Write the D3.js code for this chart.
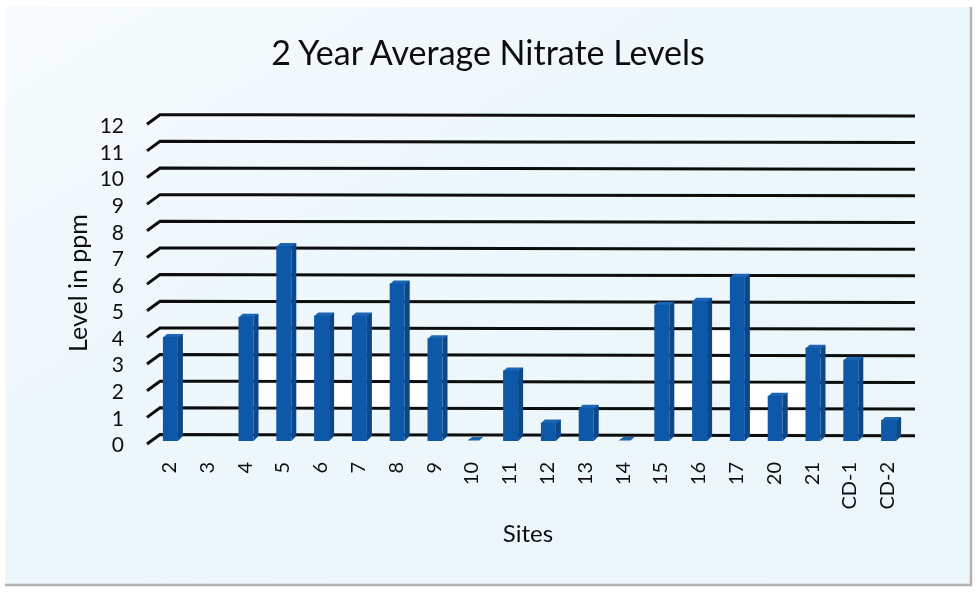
<!DOCTYPE html>
<html>
<head>
<meta charset="utf-8">
<script src="https://cdn.jsdelivr.net/npm/d3@7"></script>
<style>
html, body { margin: 0; padding: 0; background: #fff; }
svg { display: block; }
text { font-family: Lato, "Noto Sans", sans-serif; fill: #111; }
</style>
</head>
<body>
<svg id="chart" width="976" height="592"></svg>
<script>
const sites = ["2","3","4","5","6","7","8","9","10","11","12","13","14","15","16","17","20","21","CD-1","CD-2"];
const nitrate = [4.0,0,4.75,7.4,4.8,4.8,6.0,3.95,0.08,2.75,0.8,1.35,0.05,5.2,5.35,6.25,1.8,3.6,3.15,0.9];
const yTicks = [0,1,2,3,4,5,6,7,8,9,10,11,12];
// scanner dropouts between the bars: from site, to site, grid band (level to level+1)
const patchFrom = ["4","4","5","5","6","7","7","8","8","15","16","16","17","17"];
const patchTo = ["5","5","6","6","7","8","8","9","9","16","17","17","21","21"];
const patchLevel = [1,2,1,2,1,1,2,1,2,1,2,3,0,1];

const root = d3.select("#chart");

// paper
var defs = root.append("defs");
var grad = defs.append("linearGradient").attr("id", "paper")
    .attr("x1", 0).attr("y1", 0).attr("x2", 1).attr("y2", 1);
grad.append("stop").attr("offset", "0%").attr("stop-color", "#f7fbfd");
grad.append("stop").attr("offset", "35%").attr("stop-color", "#eef7fb");
grad.append("stop").attr("offset", "100%").attr("stop-color", "#ecf6fb");
// scan softness
defs.append("filter").attr("id", "soft").append("feGaussianBlur").attr("stdDeviation", 0.5);

const svg = root.append("g").attr("filter", "url(#soft)");

svg.append("rect").attr("x", 5).attr("y", 7).attr("width", 966).attr("height", 578)
    .attr("fill", "url(#paper)");
svg.append("path").attr("d", "M971,7V585H5").attr("fill", "none")
    .attr("stroke", "#b5b3b0").attr("stroke-width", 2.5);

const x = d3.scaleBand().domain(sites).range([154, 910]);
const y = d3.scaleLinear().domain([0, 12]).range([434.5, 114.7]);
const depthX = 13, depthY = 9;
const barW = 20, sideW = 5;

function barX(s){ return x(s) + x.bandwidth() / 2 - barW / 2; }

// grid lines with the 3d floor tick at the left
svg.append("g").selectAll("path").data(yTicks).enter().append("path")
    .attr("d", function(d){
        var p = y(d);
        return "M" + (160 - depthX) + "," + (p + depthY + 0.5) + "L160," + p + "L915," + (p + 1.2);
    })
    .attr("fill", "none").attr("stroke", "#0c0c0c").attr("stroke-width", 3);

// white dropouts
svg.append("g").selectAll("rect").data(patchLevel).enter().append("rect")
    .attr("x", function(d, i){ return barX(patchFrom[i]) + barW - 1; })
    .attr("width", function(d, i){ return barX(patchTo[i]) - barX(patchFrom[i]) - barW + 2; })
    .attr("y", function(d){ return y(d + 1) + 2.5; })
    .attr("height", function(d){ return y(d) - y(d + 1) - 4; })
    .attr("fill", "#ffffff");

// bars
const frontY = d3.scaleLinear().domain([0, 12]).range([441, 119.8]);
const bars = svg.append("g").selectAll("g").data(sites).enter().append("g");
bars.each(function(s, i){
    var v = nitrate[i];
    if (v === 0) return;
    var g = d3.select(this);
    var x0 = barX(s), x1 = x0 + barW - sideW, x2 = x0 + barW;
    var yb = frontY(0), yt = frontY(v);
    if (v < 0.2) {
        // almost nothing, only the flat lid is seen
        g.append("path").attr("d", "M" + (x0 + 2) + "," + (yb - 0.5) + "L" + (x1 - 1) + "," + (yb - 0.5)
            + "L" + (x2 - 2) + "," + (yb - 4) + "L" + (x0 + 7) + "," + (yb - 4) + "Z")
            .attr("fill", "#1a62ad");
        return;
    }
    // side
    g.append("path").attr("d", "M" + x1 + "," + (yt + 2) + "L" + x2 + "," + yt + "L" + x2 + "," + (yb - 5)
        + "L" + x1 + "," + yb + "Z").attr("fill", "#0a4788");
    // lid
    g.append("path").attr("d", "M" + x0 + "," + (yt + 4) + "L" + (x0 + 4) + "," + yt + "L" + x2 + "," + yt
        + "L" + x1 + "," + (yt + 4) + "Z").attr("fill", "#1a66b4");
    // front
    g.append("rect").attr("x", x0).attr("y", yt + 3).attr("width", barW - sideW).attr("height", yb - yt - 3)
        .attr("fill", "#0f59a8");
});

// axes
const yAxisScale = d3.scaleLinear().domain([0, 12]).range([445, 126]);
const yAxis = svg.append("g").attr("transform", "translate(129,0)")
    .call(d3.axisLeft(yAxisScale).tickValues(yTicks).tickSize(0).tickPadding(5).tickFormat(d3.format("d")));
yAxis.select(".domain").remove();
yAxis.selectAll("text").style("font-family", "Lato, sans-serif").style("font-size", "21px").style("fill", "#111");

const xAxis = svg.append("g").attr("transform", "translate(-4,462)")
    .call(d3.axisBottom(x).tickSize(0).tickPadding(0));
xAxis.select(".domain").remove();
xAxis.selectAll("text")
    .attr("transform", "rotate(-90)")
    .attr("x", 0).attr("y", 0).attr("dy", "0.35em")
    .attr("text-anchor", "end")
    .style("font-family", "Lato, sans-serif").style("font-size", "20px").style("fill", "#111");

// titles
svg.append("text").attr("x", 488).attr("y", 65).attr("text-anchor", "middle")
    .style("font-size", "34px").text("2 Year Average Nitrate Levels");
svg.append("text").attr("x", 528).attr("y", 542).attr("text-anchor", "middle")
    .style("font-size", "24px").text("Sites");
svg.append("text").attr("transform", "translate(87,283) rotate(-90)").attr("text-anchor", "middle")
    .style("font-size", "25px").text("Level in ppm");
</script>
</body>
</html>
